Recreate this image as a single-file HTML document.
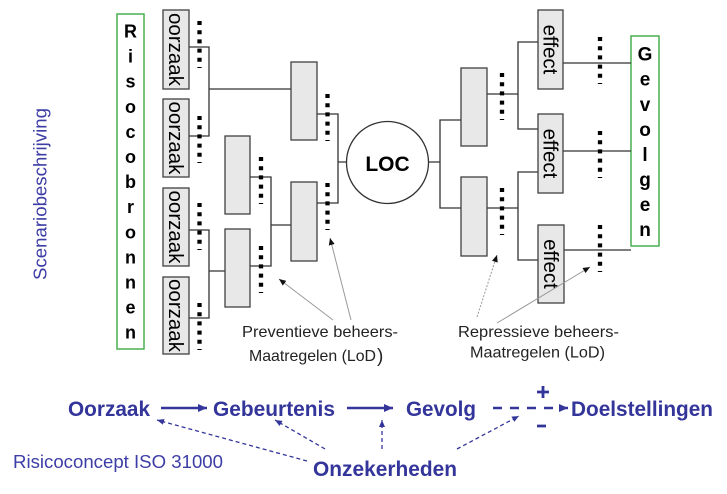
<!DOCTYPE html>
<html><head><meta charset="utf-8"><style>
html,body{margin:0;padding:0;background:#fff;}
svg{display:block;}
text{font-family:"Liberation Sans",Arial,sans-serif;}
</style></head><body>
<svg width="727" height="494" viewBox="0 0 727 494" xmlns="http://www.w3.org/2000/svg">
<defs>
<marker id="ah" markerWidth="8" markerHeight="8" refX="7" refY="4" orient="auto" markerUnits="userSpaceOnUse"><path d="M0,1 L7,4 L0,7 z" fill="#111"/></marker>
<marker id="bh" markerWidth="10" markerHeight="10" refX="9" refY="5" orient="auto" markerUnits="userSpaceOnUse"><path d="M0,1 L9,5 L0,9 z" fill="#33359a"/></marker>
<marker id="bs" markerWidth="8" markerHeight="8" refX="7" refY="4" orient="auto" markerUnits="userSpaceOnUse"><path d="M0,1 L7,4 L0,7 z" fill="#33359a"/></marker>
</defs>

<!-- Green boxes -->
<rect x="117" y="14" width="27" height="335" fill="#fff" stroke="#4caf50" stroke-width="1.5"/>
<rect x="631" y="36" width="28" height="210" fill="#fff" stroke="#4caf50" stroke-width="1.5"/>

<g font-weight="bold" font-size="18" text-anchor="middle" fill="#000">
<text x="130.5" y="37.5">R</text>
<text x="130.5" y="62.6">i</text>
<text x="130.5" y="87.7">s</text>
<text x="130.5" y="112.8">o</text>
<text x="130.5" y="137.9">c</text>
<text x="130.5" y="163">o</text>
<text x="130.5" y="188.1">b</text>
<text x="130.5" y="213.2">r</text>
<text x="130.5" y="238.3">o</text>
<text x="130.5" y="263.4">n</text>
<text x="130.5" y="288.5">n</text>
<text x="130.5" y="313.6">e</text>
<text x="130.5" y="338.7">n</text>
</g>
<g font-weight="bold" font-size="19" text-anchor="middle" fill="#000">
<text x="645" y="60.7">G</text>
<text x="645" y="85.7">e</text>
<text x="645" y="110.8">v</text>
<text x="645" y="135.8">o</text>
<text x="645" y="160.9">l</text>
<text x="645" y="185.9">g</text>
<text x="645" y="211">e</text>
<text x="645" y="236">n</text>
</g>

<!-- connectors -->
<g stroke="#333" stroke-width="1.3" fill="none">
<path d="M189,47 H209 V136 H189 M209,89 H291"/>
<path d="M189,230 H209 V318 H189 M209,271 H225"/>
<path d="M250,177 H271 V266 H250 M271,225 H291"/>
<path d="M317,114 H338 V203 H317 M338,162 H347"/>
<path d="M428,162 H440 M461,120 H440 V208 H461"/>
<path d="M487,94 H518 M538,42 H518 V129 H538"/>
<path d="M487,208 H518 M538,172 H518 V260 H538"/>
<path d="M563,63 H631 M563,151 H631 M563,250 H631"/>
</g>

<!-- boxes -->
<g fill="#e8e8e8" stroke="#404040" stroke-width="1.3">
<rect x="163" y="10" width="26" height="79"/>
<rect x="163" y="99" width="26" height="78"/>
<rect x="163" y="188" width="26" height="78"/>
<rect x="163" y="277" width="26" height="77"/>
<rect x="291" y="62" width="26" height="78"/>
<rect x="291" y="182" width="26" height="79"/>
<rect x="225" y="136" width="25" height="78"/>
<rect x="225" y="229" width="25" height="78"/>
<rect x="461" y="68" width="26" height="78"/>
<rect x="461" y="177" width="26" height="79"/>
<rect x="538" y="10" width="25" height="79"/>
<rect x="538" y="114" width="25" height="79"/>
<rect x="538" y="225" width="26" height="78"/>
</g>
<g font-size="20.5" text-anchor="middle" fill="#000">
<text transform="translate(176,49.5) rotate(90)" y="7">oorzaak</text>
<text transform="translate(176,138) rotate(90)" y="7">oorzaak</text>
<text transform="translate(176,227) rotate(90)" y="7">oorzaak</text>
<text transform="translate(176,315.5) rotate(90)" y="7">oorzaak</text>
<text transform="translate(550.5,49.5) rotate(90)" y="7">effect</text>
<text transform="translate(550.5,153.5) rotate(90)" y="7">effect</text>
<text transform="translate(551,264) rotate(90)" y="7">effect</text>
</g>

<!-- LOC -->
<circle cx="387.5" cy="162.5" r="41" fill="#fff" stroke="#333" stroke-width="1.3"/>
<text x="387.5" y="171" font-size="21" font-weight="bold" text-anchor="middle">LOC</text>

<!-- dotted marks -->
<g stroke="#000" stroke-width="4.3" stroke-dasharray="4 5.2" fill="none">
<path d="M199.5,21 V68"/>
<path d="M199.5,116 V163"/>
<path d="M199.5,203 V250"/>
<path d="M199.5,303 V350"/>
<path d="M327.5,94 V141"/>
<path d="M327.5,183 V230"/>
<path d="M261,157 V204"/>
<path d="M261,246 V293"/>
<path d="M502,73 V120"/>
<path d="M502,188 V235"/>
<path d="M600,37 V84"/>
<path d="M600,131 V178"/>
<path d="M600,225 V272"/>
</g>

<!-- annotation arrows -->
<g stroke="#999" stroke-width="1" fill="none">
<path d="M333,320 L279,279" marker-end="url(#ah)"/>
<path d="M351,320 L330,238" marker-end="url(#ah)"/>
<path d="M477,317 L497,255" stroke-dasharray="2 1.5" marker-end="url(#ah)"/>
<path d="M497,323 L590,267" marker-end="url(#ah)"/>
</g>
<g font-size="16" fill="#222">
<text x="242" y="337" textLength="156" lengthAdjust="spacingAndGlyphs">Preventieve beheers-</text>
<text x="249" y="361" textLength="127" lengthAdjust="spacingAndGlyphs">Maatregelen (LoD</text>
<text x="377" y="362" font-size="19">)</text>
<text x="458" y="337" textLength="161" lengthAdjust="spacingAndGlyphs">Repressieve beheers-</text>
<text x="470" y="357.5" textLength="135" lengthAdjust="spacingAndGlyphs">Maatregelen (LoD)</text>
</g>

<!-- Scenariobeschrijving -->
<text transform="translate(46.7,194) rotate(-90)" text-anchor="middle" font-size="18.6" fill="#3d3da6" textLength="172" lengthAdjust="spacingAndGlyphs">Scenariobeschrijving</text>

<!-- bottom ISO concept -->
<g font-weight="bold" font-size="21" fill="#33359a">
<text x="68" y="416" textLength="82" lengthAdjust="spacingAndGlyphs">Oorzaak</text>
<text x="213" y="416" textLength="122" lengthAdjust="spacingAndGlyphs">Gebeurtenis</text>
<text x="406" y="416" textLength="70" lengthAdjust="spacingAndGlyphs">Gevolg</text>
<text x="571" y="416" textLength="142" lengthAdjust="spacingAndGlyphs">Doelstellingen</text>
<text x="313" y="476" textLength="144" lengthAdjust="spacingAndGlyphs">Onzekerheden</text>
</g>
<text x="13" y="468" font-size="18.5" fill="#3d3da6" textLength="210" lengthAdjust="spacingAndGlyphs">Risicoconcept ISO 31000</text>

<g stroke="#33359a" fill="none">
<path d="M161,408 H207" stroke-width="2.5" marker-end="url(#bh)"/>
<path d="M347,408 H393" stroke-width="2.5" marker-end="url(#bh)"/>
<path d="M493,408 H568" stroke-width="2.5" stroke-dasharray="9 8" marker-end="url(#bh)"/>
<path d="M307,461 L157,420" stroke-width="1.3" stroke-dasharray="4 3" marker-end="url(#bs)"/>
<path d="M325,449 L275,420" stroke-width="1.3" stroke-dasharray="4 3" marker-end="url(#bs)"/>
<path d="M382,449 L382,420" stroke-width="1.3" stroke-dasharray="4 3" marker-end="url(#bs)"/>
<path d="M457,449 L519,416" stroke-width="1.3" stroke-dasharray="4 3" marker-end="url(#bs)"/>
<path d="M537,392 H549 M543,386 V398 M537,426 H546" stroke-width="2.8"/>
</g>
</svg>
</body></html>
